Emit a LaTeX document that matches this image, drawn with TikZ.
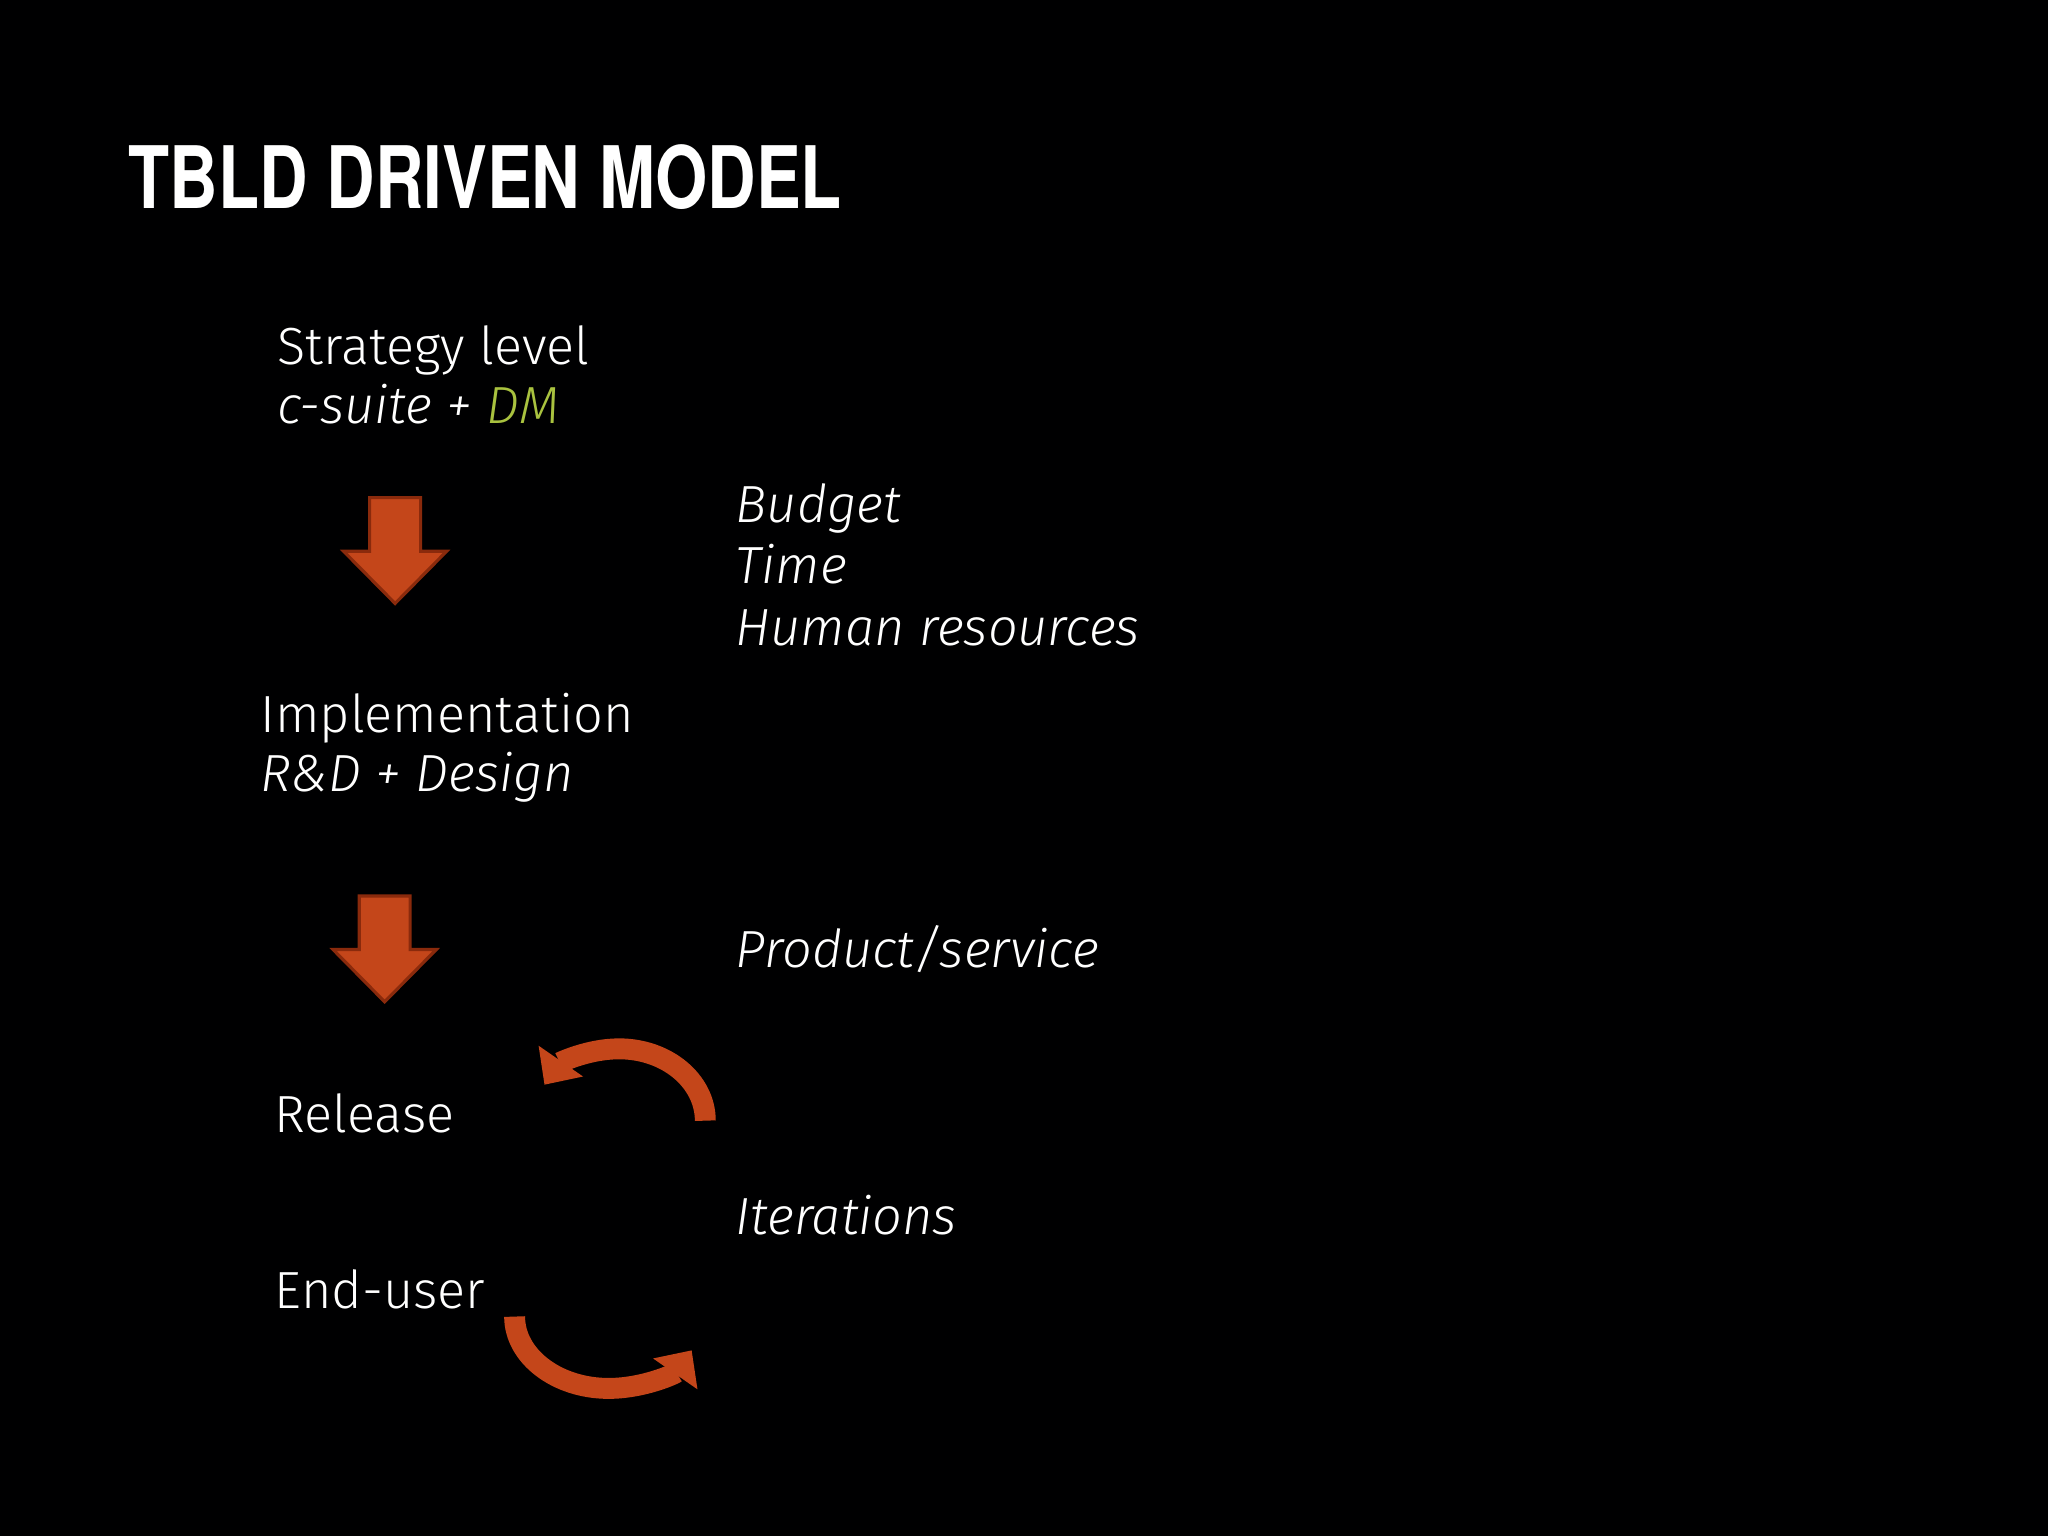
\documentclass[tikz,border=0pt]{standalone}
\usepackage{fontspec}
\setmainfont{Fira Sans Light}
\newfontfamily\titlefont[FakeStretch=0.78]{TeX Gyre Heros}
\usetikzlibrary{arrows.meta}
\definecolor{orng}{HTML}{C4461A}
\definecolor{orngd}{HTML}{8A2A0C}
\definecolor{dmgreen}{HTML}{A9C23F}
\tikzset{
 txt/.style={anchor=base west,inner sep=0pt,text=white,font=\fontsize{20}{24}\selectfont},
 blockarrow/.style={fill=orng,draw=orngd,line width=1.2pt,line join=miter},
 curv/.style={draw=orng,line width=8pt,-{Triangle[length=11pt,width=20pt]}}
}
\begin{document}
\begin{tikzpicture}[x=0.5pt,y=-0.5pt]
\fill[black!97!blue!10!black] (0,0) rectangle (1568,1176);
\useasboundingbox (0,0) rectangle (1568,1176);
\node[anchor=base west,inner sep=0pt,text=white,font=\titlefont\bfseries\fontsize{33}{38}\selectfont] (title) at (98,160) {TBLD DRIVEN MODEL};
\node[txt] (s1) at (212,279) {Strategy level};
\node[txt] (s2) at (212,324) {\itshape c-suite + \textcolor{dmgreen}{DM}};
\node[txt] (b1) at (563,400) {\itshape Budget};
\node[txt] (b2) at (563,447) {\itshape Time};
\node[txt] (b3) at (563,494) {\itshape Human resources};
\node[txt] (i1) at (199,561) {Implementation};
\node[txt] (i2) at (199,606) {\itshape R\&D + Design};
\node[txt] (p) at (563,741) {\itshape Product/service};
\node[txt] (r) at (210,867) {Release};
\node[txt] (it) at (563,945) {\itshape Iterations};
\node[txt] (e) at (210,1002) {End-user};
\draw[blockarrow] (283,381) -- (322,381) -- (322,422) -- (342,422) -- (302.5,462) -- (263,422) -- (283,422) -- cycle;
\draw[blockarrow] (275,686) -- (314,686) -- (314,727) -- (334,727) -- (294.5,767) -- (255,727) -- (275,727) -- cycle;
\draw[curv] (540,858) arc[start angle=0,end angle=-150,x radius=66,y radius=55];
\draw[curv] (394,1008) arc[start angle=180,end angle=28,x radius=72,y radius=55];
\end{tikzpicture}
\end{document}
